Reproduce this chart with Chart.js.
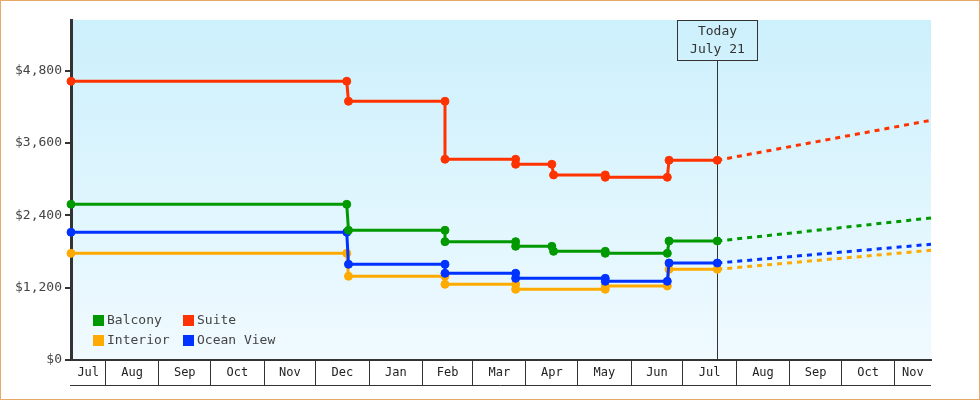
<!DOCTYPE html>
<html>
<head>
<meta charset="utf-8">
<script src="https://cdn.jsdelivr.net/npm/chart.js@4/dist/chart.umd.min.js"></script>
<style>
  body { margin: 0; background: #fff; }
  #wrap { width: 980px; height: 400px; box-sizing: border-box; border: 1px solid #e8a968; }
  canvas { display: block; }
</style>
</head>
<body>
<div id="wrap"><canvas id="chart" width="978" height="398"></canvas></div>
<script>
// x range and month tick labels
const rangeStart = "2023-07-12";
const rangeEnd = "2024-11-22";
const todayDate = "2024-07-21";
const todayText = ["Today", "July 21"];
const monthStarts = ["2023-07-01", "2023-08-01", "2023-09-01", "2023-10-01", "2023-11-01", "2023-12-01",
  "2024-01-01", "2024-02-01", "2024-03-01", "2024-04-01", "2024-05-01", "2024-06-01",
  "2024-07-01", "2024-08-01", "2024-09-01", "2024-10-01", "2024-11-01"];
const monthLabels = ["Jul", "Aug", "Sep", "Oct", "Nov", "Dec", "Jan", "Feb", "Mar", "Apr", "May", "Jun",
  "Jul", "Aug", "Sep", "Oct", "Nov"];
const yTicks = [0, 1200, 2400, 3600, 4800];

// price history (pairs of points at each change)
const balconyDates = ["2023-07-12", "2023-12-19", "2023-12-20", "2024-02-14", "2024-02-14", "2024-03-26", "2024-03-26",
  "2024-04-16", "2024-04-17", "2024-05-17", "2024-05-17", "2024-06-22", "2024-06-23", "2024-07-21"];
const balconyPrices = [2583, 2583, 2152, 2152, 1963, 1963, 1886, 1886, 1803, 1803, 1770, 1770, 1974, 1974];

const suiteDates = ["2023-07-12", "2023-12-19", "2023-12-20", "2024-02-14", "2024-02-14", "2024-03-26", "2024-03-26",
  "2024-04-16", "2024-04-17", "2024-05-17", "2024-05-17", "2024-06-22", "2024-06-23", "2024-07-21"];
const suitePrices = [4624, 4624, 4292, 4292, 3330, 3330, 3247, 3247, 3070, 3070, 3031, 3031, 3313, 3313];

const interiorDates = ["2023-07-12", "2023-12-19", "2023-12-20", "2024-02-14", "2024-02-14", "2024-03-26", "2024-03-26",
  "2024-05-17", "2024-05-17", "2024-06-22", "2024-06-23", "2024-07-21"];
const interiorPrices = [1770, 1770, 1389, 1389, 1256, 1256, 1173, 1173, 1228, 1228, 1505, 1505];

const oceanDates = ["2023-07-12", "2023-12-19", "2023-12-20", "2024-02-14", "2024-02-14", "2024-03-26", "2024-03-26",
  "2024-05-17", "2024-05-17", "2024-06-22", "2024-06-23", "2024-07-21"];
const oceanPrices = [2119, 2119, 1588, 1588, 1438, 1438, 1355, 1355, 1306, 1306, 1609, 1609];

// forecast (today -> end of range)
const forecastDates = ["2024-07-21", "2024-11-22"];
const balconyForecast = [1974, 2356];
const suiteForecast = [3313, 3977];
const interiorForecast = [1505, 1820];
const oceanForecast = [1609, 1920];

const colors = { balcony: "#009900", suite: "#ff3300", interior: "#ffaa00", ocean: "#0033ff" };
const mono = "'DejaVu Sans Mono', monospace";

function dayOf(s) {
  const d = Date.UTC(+s.slice(0, 4), +s.slice(5, 7) - 1, +s.slice(8, 10));
  return (d - Date.UTC(2023, 6, 1)) / 86400000;
}
function pts(dates, vals) {
  return dates.map((d, i) => ({ x: dayOf(d), y: vals[i] }));
}

const xMin = dayOf(rangeStart), xMax = dayOf(rangeEnd);
const xTicks = [];
monthStarts.forEach((m, i) => {
  const s = dayOf(m);
  const e = i + 1 < monthStarts.length ? dayOf(monthStarts[i + 1]) : xMax;
  if (s > xMin) xTicks.push({ value: s, label: "" });
  xTicks.push({ value: (Math.max(s, xMin) + Math.min(e, xMax)) / 2, label: monthLabels[i] });
});

function history(label, color, dates, vals, order) {
  return {
    label, data: pts(dates, vals), borderColor: color, backgroundColor: color,
    borderWidth: 3, pointRadius: 4, pointBorderWidth: 1, pointHoverRadius: 4,
    tension: 0, order, clip: false
  };
}
function forecast(color, vals, order) {
  return {
    label: "", data: pts(forecastDates, vals), borderColor: color, backgroundColor: color,
    borderWidth: 3, borderDash: [5, 5], pointRadius: 0, tension: 0, order, clip: false
  };
}

// plot background gradient
const bgPlugin = {
  id: "bg",
  beforeDraw(chart) {
    const { ctx, chartArea: a } = chart;
    const g = ctx.createLinearGradient(0, a.top, 0, a.bottom);
    g.addColorStop(0, "#ccf0fc");
    g.addColorStop(1, "#f0faff");
    ctx.save();
    ctx.fillStyle = g;
    ctx.fillRect(a.left, a.top, a.right - a.left, a.bottom - a.top);
    ctx.restore();
  }
};

// "Today" marker
const todayPlugin = {
  id: "today",
  beforeDatasetsDraw(chart) {
    const { ctx, chartArea: a, scales } = chart;
    const x = Math.round(scales.x.getPixelForValue(dayOf(todayDate))) + 0.5;
    ctx.save();
    ctx.strokeStyle = "#333";
    ctx.lineWidth = 1;
    ctx.beginPath();
    ctx.moveTo(x, a.top + 40);
    ctx.lineTo(x, a.bottom);
    ctx.stroke();
    ctx.strokeRect(x - 40, a.top + 0.5, 80, 40);
    ctx.fillStyle = "#333";
    ctx.font = "13px " + mono;
    ctx.textAlign = "center";
    ctx.textBaseline = "middle";
    ctx.fillText(todayText[0], x, a.top + 12);
    ctx.fillText(todayText[1], x, a.top + 30);
    ctx.restore();
  }
};

// legend inside plot + bottom rule of the month strip
const legendPlugin = {
  id: "insideLegend",
  afterDraw(chart) {
    const { ctx, chartArea: a } = chart;
    ctx.save();
    ctx.strokeStyle = "#333";
    ctx.lineWidth = 1;
    ctx.beginPath();
    ctx.moveTo(a.left - 1, a.bottom + 25.5);
    ctx.lineTo(a.right, a.bottom + 25.5);
    ctx.stroke();
    ctx.font = "13px " + mono;
    ctx.textBaseline = "middle";
    chart.data.datasets.slice(0, 4).forEach((ds, i) => {
      const x = a.left + 22 + (i % 2) * 90;
      const y = a.bottom - 45 + Math.floor(i / 2) * 20;
      ctx.fillStyle = ds.borderColor;
      ctx.fillRect(x, y, 11, 11);
      ctx.fillStyle = "#444";
      ctx.fillText(ds.label, x + 14, y + 6);
    });
    ctx.restore();
  }
};

new Chart(document.getElementById("chart"), {
  type: "line",
  data: {
    datasets: [
      history("Balcony", colors.balcony, balconyDates, balconyPrices, 1),
      history("Suite", colors.suite, suiteDates, suitePrices, 0),
      history("Interior", colors.interior, interiorDates, interiorPrices, 3),
      history("Ocean View", colors.ocean, oceanDates, oceanPrices, 2),
      forecast(colors.balcony, balconyForecast, 5),
      forecast(colors.suite, suiteForecast, 4),
      forecast(colors.interior, interiorForecast, 7),
      forecast(colors.ocean, oceanForecast, 6),
    ],
  },
  options: {
    responsive: false,
    animation: false,
    devicePixelRatio: 1,
    layout: { padding: { top: 19, right: 48, bottom: 0, left: 0 } },
    plugins: { legend: { display: false }, tooltip: { enabled: false } },
    scales: {
      x: {
        type: "linear",
        min: xMin,
        max: xMax,
        afterBuildTicks: (s) => { s.ticks = xTicks.map((t) => ({ value: t.value })); },
        afterFit: (s) => { s.height = 39; },
        ticks: {
          autoSkip: false, maxRotation: 0, minRotation: 0, padding: -19,
          color: "#222", font: { family: mono, size: 12 },
          callback: (v, i) => xTicks[i].label,
        },
        grid: {
          drawOnChartArea: false, tickLength: 25, lineWidth: 1,
          color: (c) => (xTicks[c.index] && xTicks[c.index].label ? "rgba(0,0,0,0)" : "#333"),
        },
        border: { color: "#333", width: 2 },
      },
      y: {
        min: 0,
        max: 5640,
        afterBuildTicks: (s) => { s.ticks = yTicks.map((v) => ({ value: v })); },
        afterFit: (s) => { s.width = 70; },
        ticks: {
          padding: 3, color: "#444", font: { family: mono, size: 13 },
          callback: (v) => "$" + v.toLocaleString("en-US"),
        },
        grid: { drawOnChartArea: false, tickLength: 6, lineWidth: 2, color: "#333" },
        border: { color: "#333", width: 3 },
      },
    },
  },
  plugins: [bgPlugin, todayPlugin, legendPlugin],
});
</script>
</body>
</html>
